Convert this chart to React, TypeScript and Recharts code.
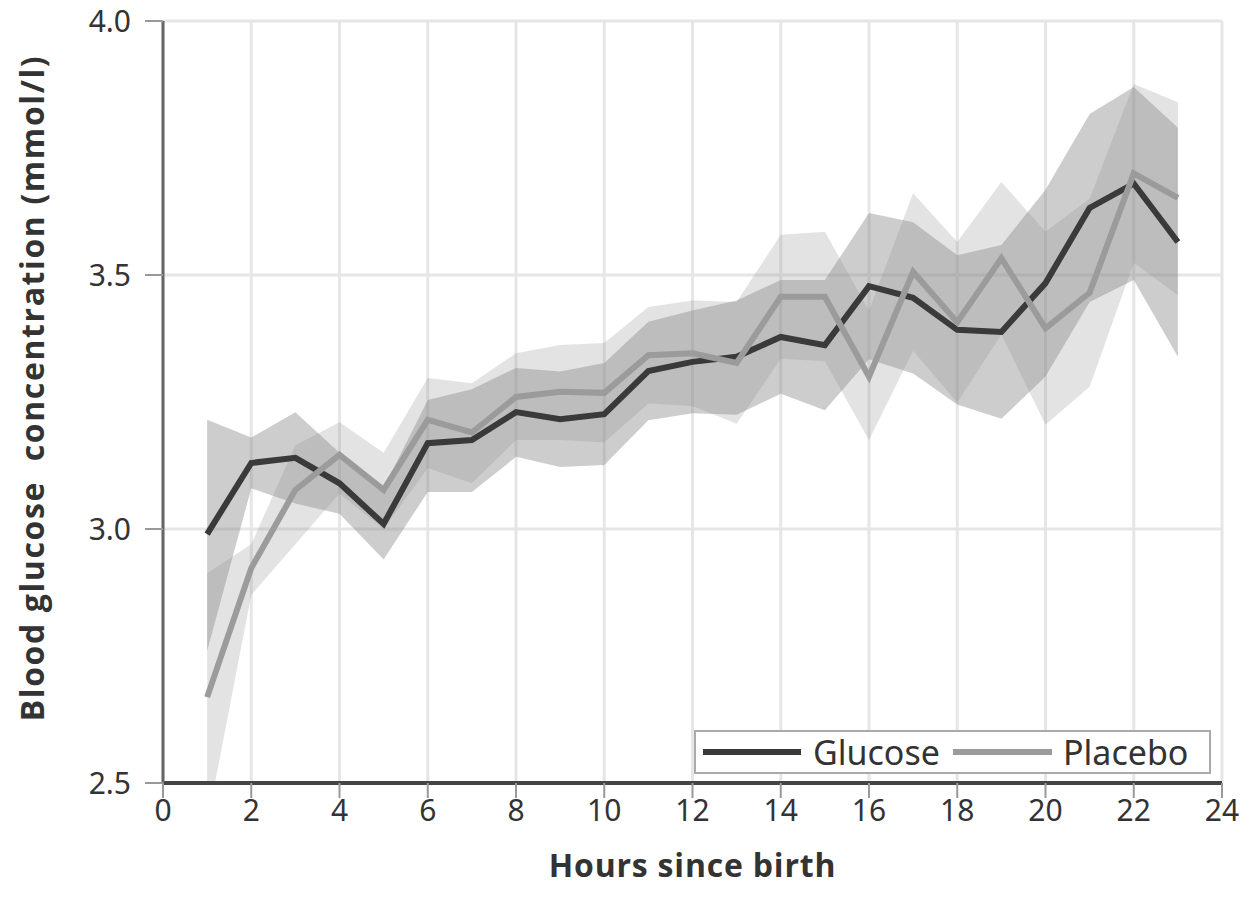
import { Area, CartesianGrid, ComposedChart, Legend, Line, XAxis, YAxis } from 'recharts';

const hours = [1, 2, 3, 4, 5, 6, 7, 8, 9, 10, 11, 12, 13, 14, 15, 16, 17, 18, 19, 20, 21, 22, 23];

const glucoseMean = [2.99, 3.13, 3.14, 3.09, 3.01, 3.169, 3.175, 3.23, 3.216, 3.226, 3.311, 3.329, 3.339, 3.378, 3.362, 3.478, 3.455, 3.392, 3.388, 3.484, 3.632, 3.68, 3.565];
const glucoseLow = [2.76, 3.08, 3.05, 3.03, 2.94, 3.073, 3.073, 3.142, 3.122, 3.126, 3.214, 3.228, 3.225, 3.266, 3.234, 3.334, 3.306, 3.245, 3.217, 3.3, 3.447, 3.49, 3.339];
const glucoseHigh = [3.215, 3.18, 3.23, 3.15, 3.08, 3.254, 3.275, 3.317, 3.31, 3.327, 3.408, 3.43, 3.45, 3.49, 3.49, 3.622, 3.604, 3.539, 3.559, 3.668, 3.817, 3.87, 3.79];

const placeboMean = [2.669, 2.923, 3.077, 3.146, 3.077, 3.215, 3.19, 3.26, 3.27, 3.268, 3.342, 3.346, 3.327, 3.457, 3.457, 3.3, 3.506, 3.407, 3.533, 3.395, 3.465, 3.7, 3.652];
const placeboLow = [2.42, 2.87, 2.97, 3.07, 3.0, 3.12, 3.09, 3.175, 3.175, 3.171, 3.247, 3.242, 3.207, 3.335, 3.33, 3.175, 3.351, 3.249, 3.383, 3.205, 3.28, 3.524, 3.46];
const placeboHigh = [2.913, 2.97, 3.165, 3.21, 3.15, 3.297, 3.287, 3.346, 3.362, 3.366, 3.437, 3.45, 3.447, 3.579, 3.585, 3.43, 3.661, 3.565, 3.683, 3.585, 3.65, 3.876, 3.84];

const xTicks = [0, 2, 4, 6, 8, 10, 12, 14, 16, 18, 20, 22, 24];
const yTicks = [2.5, 3.0, 3.5, 4.0];

const rows = hours.map((h, i) => ({
  hour: h,
  glucose: glucoseMean[i],
  placebo: placeboMean[i],
  glucoseBand: [glucoseLow[i], glucoseHigh[i]],
  placeboBand: [placeboLow[i], placeboHigh[i]],
}));

const GLUCOSE = '#3a3a3a';
const PLACEBO = '#9b9b9b';
const tickFont = { fontFamily: '"Noto Sans", sans-serif', fontSize: 30, fill: '#333' };
const titleFont = { fontFamily: '"Open Sans", sans-serif', fontWeight: 700, fontSize: 32, fill: '#333' };

function LegendBox() {
  return (
    <div
      style={{
        display: 'flex',
        alignItems: 'center',
        border: '2px solid #aaa',
        background: '#fff',
        paddingLeft: 7,
        fontFamily: '"Noto Sans", sans-serif',
        fontSize: 34,
        color: '#333',
        boxSizing: 'border-box',
        width: 517,
        height: 44,
        whiteSpace: 'nowrap',
      }}
    >
      <span style={{ display: 'inline-block', width: 98, height: 6, background: GLUCOSE, marginRight: 12 }} />
      <span style={{ width: 140 }}>Glucose</span>
      <span style={{ display: 'inline-block', width: 99, height: 6, background: PLACEBO, marginRight: 11 }} />
      <span>Placebo</span>
    </div>
  );
}

function YTitle() {
  return (
    <text
      x={31}
      y={388}
      transform="rotate(-90 31 388)"
      textAnchor="middle"
      dominantBaseline="central"
      style={{ ...titleFont, letterSpacing: 1.6 }}
    >
      {'Blood glucose\u00a0\u00a0concentration (mmol/l)'}
    </text>
  );
}

export default function App() {
  return (
    <div style={{ width: 1258, height: 900, background: '#fff', margin: '-8px 0 0 -8px' }}>
      <ComposedChart width={1258} height={900} data={rows} margin={{ top: 21, right: 36, bottom: 17, left: 0 }}>
        <CartesianGrid stroke="#e6e6e6" strokeWidth={3} verticalValues={xTicks} horizontalValues={yTicks} />
        <XAxis
          dataKey="hour"
          type="number"
          domain={[0, 24]}
          ticks={xTicks}
          height={100}
          tick={tickFont}
          tickSize={15}
          tickMargin={2}
          tickLine={{ stroke: '#999', strokeWidth: 2 }}
          axisLine={{ stroke: '#444', strokeWidth: 4 }}
          label={{ value: 'Hours since birth', position: 'insideBottom', offset: 6, style: { ...titleFont, letterSpacing: 0.8 } }}
        />
        <YAxis
          type="number"
          domain={[2.5, 4]}
          allowDataOverflow
          ticks={yTicks}
          width={163}
          tick={tickFont}
          tickFormatter={(v: number) => v.toFixed(1)}
          tickSize={18}
          tickMargin={14}
          tickLine={{ stroke: '#999', strokeWidth: 2 }}
          axisLine={{ stroke: '#666', strokeWidth: 3 }}
          label={<YTitle />}
        />
        <Area dataKey="placeboBand" stroke="none" fill="#888" fillOpacity={0.24} isAnimationActive={false} legendType="none" />
        <Area dataKey="glucoseBand" stroke="none" fill="#888" fillOpacity={0.42} isAnimationActive={false} legendType="none" />
        <Line dataKey="glucose" name="Glucose" stroke={GLUCOSE} strokeWidth={6} dot={false} isAnimationActive={false} />
        <Line dataKey="placebo" name="Placebo" stroke={PLACEBO} strokeWidth={6} dot={false} isAnimationActive={false} />
        <Legend
          layout="horizontal"
          verticalAlign="middle"
          align="center"
          content={() => <LegendBox />}
          wrapperStyle={{ position: 'absolute', left: 694, top: 730, width: 517, height: 44 }}
        />
      </ComposedChart>
    </div>
  );
}
